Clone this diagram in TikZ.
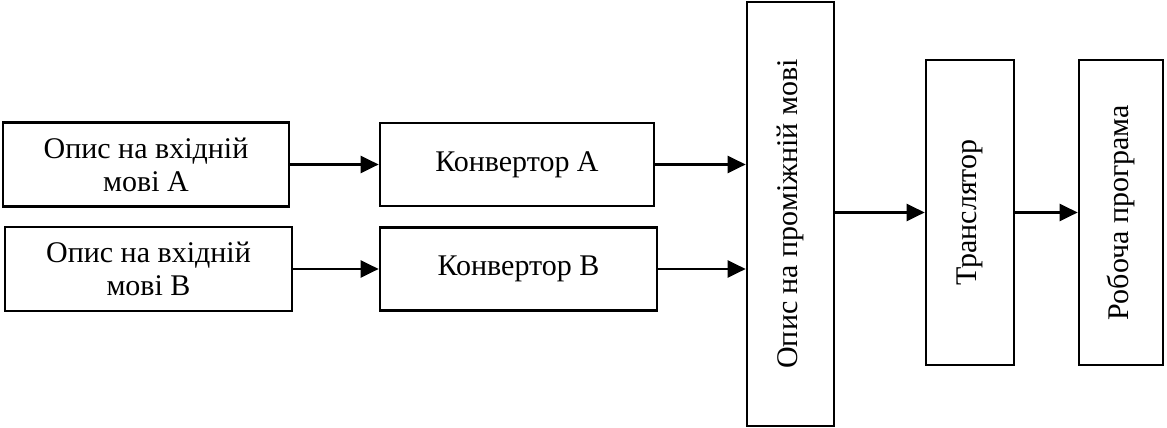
\documentclass[tikz,border=0pt]{standalone}
\usepackage{fontspec}
\setmainfont{Liberation Serif}
\usepackage{graphicx}
\usetikzlibrary{shapes, arrows.meta, positioning}

\begin{document}
\begin{tikzpicture}[
  x=1pt, y=1pt,
  block/.style={rectangle, draw, line width=2.7pt, align=center, inner sep=0pt,
    font=\fontsize{30}{33}\selectfont},
  arr/.style={-{Triangle[length=18pt,width=17pt]}, line width=2.7pt}]

  \useasboundingbox (0,0) rectangle (1167,428);

  % input descriptions and converters
  \node[block, minimum width=286, minimum height=84] (inA) at (146,263.5) {Опис на вхідній\\мові А};
  \node[block, minimum width=287, minimum height=84] (inB) at (148.5,159) {Опис на вхідній\\мові В};
  \node[block, minimum width=274, minimum height=83] (convA) at (517,263.5) {Конвертор А};
  \node[block, minimum width=277, minimum height=83] (convB) at (518.5,159) {Конвертор В};

  % vertical blocks
  \node[block, minimum width=87, minimum height=424] (mid) at (790.5,214) {\rotatebox{90}{Опис на проміжній мові}};
  \node[block, minimum width=88, minimum height=305] (trans) at (970,215.5) {\rotatebox{90}{Транслятор}};
  \node[block, minimum width=84, minimum height=305] (prog) at (1121,215.5) {\rotatebox{90}{Робоча програма}};

  \draw[arr] (inA) -- (convA);
  \draw[arr] (inB) -- (convB);
  \draw[arr] (convA.east) -- (convA.east -| mid.west);
  \draw[arr] (convB.east) -- (convB.east -| mid.west);
  \draw[arr] (mid.east |- trans) -- (trans);
  \draw[arr] (trans) -- (prog);
\end{tikzpicture}
\end{document}
